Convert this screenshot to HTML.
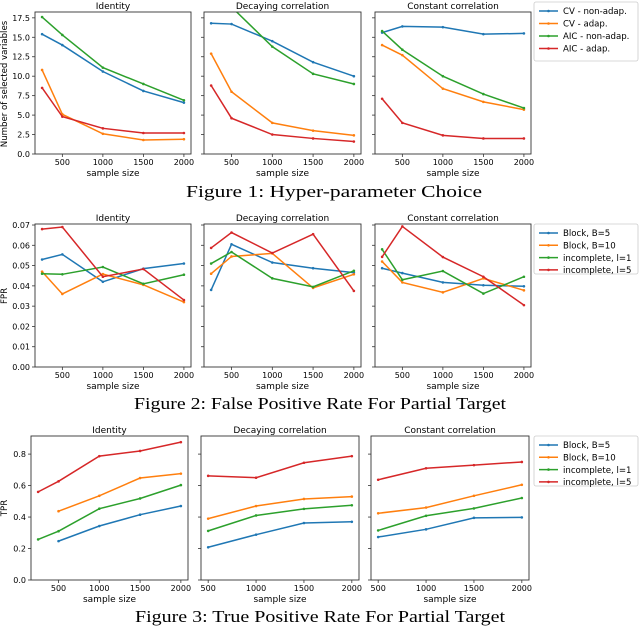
<!DOCTYPE html>
<html><head><meta charset="utf-8"><style>
body{margin:0;background:#fff;}
svg text{font-family:"DejaVu Sans","Liberation Sans",sans-serif;fill:#000;}
.cap{font-family:"Liberation Serif",serif;}
</style></head><body>
<svg id="c" width="640" height="628" viewBox="0 0 640 628" xmlns="http://www.w3.org/2000/svg"></svg>
<script>
// ---- Figure 1 data ----
const xs5 = [250, 500, 1000, 1500, 2000];
const xs4 = [500, 1000, 1500, 2000];
const panelTitles = ["Identity", "Decaying correlation", "Constant correlation"];
const f1Names = ["CV - non-adap.", "CV - adap.", "AIC - non-adap.", "AIC - adap."];
const f1Ticks = [0, 2.5, 5, 7.5, 10, 12.5, 15, 17.5];
const f1IdCVn = [15.4, 14.0, 10.6, 8.1, 6.6];
const f1IdCVa = [10.8, 5.1, 2.6, 1.8, 1.9];
const f1IdAICn = [17.6, 15.3, 11.1, 9.0, 6.9];
const f1IdAICa = [8.5, 4.8, 3.3, 2.7, 2.7];
const f1DeCVn = [16.8, 16.7, 14.5, 11.8, 10.0];
const f1DeCVa = [12.9, 8.0, 4.0, 3.0, 2.4];
const f1DeAICn = [21.5, 18.9, 13.8, 10.3, 9.0];
const f1DeAICa = [8.8, 4.6, 2.5, 2.0, 1.6];
const f1CoCVn = [15.6, 16.4, 16.3, 15.4, 15.5];
const f1CoCVa = [14.0, 12.7, 8.4, 6.7, 5.7];
const f1CoAICn = [15.8, 13.4, 10.0, 7.7, 5.9];
const f1CoAICa = [7.1, 4.0, 2.4, 2.0, 2.0];
// ---- Figure 2 data ----
const f23Names = ["Block, B=5", "Block, B=10", "incomplete, l=1", "incomplete, l=5"];
const f2Ticks = [0, 0.01, 0.02, 0.03, 0.04, 0.05, 0.06, 0.07];
const f2IdB5 = [0.053, 0.0555, 0.042, 0.0485, 0.051];
const f2IdB10 = [0.047, 0.036, 0.0458, 0.0405, 0.032];
const f2IdL1 = [0.046, 0.0457, 0.0493, 0.041, 0.0455];
const f2IdL5 = [0.068, 0.069, 0.0445, 0.0483, 0.033];
const f2DeB5 = [0.038, 0.0605, 0.0515, 0.0487, 0.0465];
const f2DeB10 = [0.046, 0.0545, 0.056, 0.039, 0.0457];
const f2DeL1 = [0.051, 0.0567, 0.0437, 0.0395, 0.0474];
const f2DeL5 = [0.0587, 0.0663, 0.0562, 0.0655, 0.0375];
const f2CoB5 = [0.0487, 0.0463, 0.0417, 0.0403, 0.0398];
const f2CoB10 = [0.052, 0.0417, 0.0368, 0.0437, 0.0378];
const f2CoL1 = [0.058, 0.043, 0.0473, 0.0362, 0.0445];
const f2CoL5 = [0.0543, 0.0693, 0.0542, 0.0445, 0.0305];
// ---- Figure 3 data ----
const f3Ticks = [0, 0.2, 0.4, 0.6, 0.8];
const f3IdB5 = [null, 0.247, 0.343, 0.415, 0.47];
const f3IdB10 = [null, 0.437, 0.535, 0.648, 0.676];
const f3IdL1 = [0.258, 0.31, 0.453, 0.518, 0.603];
const f3IdL5 = [0.56, 0.627, 0.787, 0.82, 0.876];
const f3DeB5 = [0.208, 0.288, 0.362, 0.37];
const f3DeB10 = [0.39, 0.47, 0.515, 0.53];
const f3DeL1 = [0.312, 0.41, 0.452, 0.475];
const f3DeL5 = [0.662, 0.65, 0.745, 0.787];
const f3CoB5 = [0.273, 0.322, 0.395, 0.398];
const f3CoB10 = [0.424, 0.46, 0.535, 0.605];
const f3CoL1 = [0.315, 0.408, 0.455, 0.521];
const f3CoL5 = [0.637, 0.71, 0.73, 0.75];
const xTickVals = [500, 1000, 1500, 2000];
const colors = ["#1f77b4", "#ff7f0e", "#2ca02c", "#d62728"];

const NS = "http://www.w3.org/2000/svg";
const svg = document.getElementById("c");
function mk(tag, attrs, parent){const e=document.createElementNS(NS,tag);for(const k in attrs)e.setAttribute(k,attrs[k]);(parent||svg).appendChild(e);return e;}
let clipId = 0;

function panel(fig, idx, box, xs, xlim, ylim, yTicks, yDec, showYLab, series, title){
  const [L,T,R,B] = box;
  const g = mk("g", {});
  
  
  const sx = v => L + (v - xlim[0]) / (xlim[1]-xlim[0]) * (R-L);
  const sy = v => B - (v - ylim[0]) / (ylim[1]-ylim[0]) * (B-T);
  const cid = "clip" + (clipId++);
  const cp = mk("clipPath", {id: cid}, g);
  mk("rect", {x:L, y:T, width:R-L, height:B-T}, cp);
  series.forEach((vals, si) => {
    const pts = [];
    vals.forEach((v, i) => { if (v !== null) pts.push([sx(xs[i]), sy(v)]); });
    const pl = mk("polyline", {points: pts.map(p=>p.join(",")).join(" "), fill:"none", stroke:colors[si], "stroke-width":1.5, "clip-path":"url(#"+cid+")"}, g);
    
    
    pts.forEach(p => {
      const m = mk("circle", {cx:p[0], cy:p[1], r:1.3, fill:colors[si], "clip-path":"url(#"+cid+")"}, g);
      
      
    });
  });
  const fr = mk("rect", {x:L, y:T, width:R-L, height:B-T, fill:"none", stroke:"#333", "stroke-width":0.9}, g);
  
  
  yTicks.forEach(t => {
    const y = sy(t);
    mk("line", {x1:L-3, x2:L, y1:y, y2:y, stroke:"#333", "stroke-width":0.8}, g);
    if (showYLab) {
      const tx = mk("text", {x:L-5, y:y+3, "font-size":8, "text-anchor":"end"}, g);
      tx.textContent = t.toFixed(yDec);
      
      
    }
  });
  xTickVals.forEach(t => {
    const x = sx(t);
    mk("line", {x1:x, x2:x, y1:B, y2:B+3, stroke:"#333", "stroke-width":0.8}, g);
    const tx = mk("text", {x:x, y:B+11, "font-size":8, "text-anchor":"middle"}, g);
    tx.textContent = t;
    
    
  });
  const ttl = mk("text", {x:(L+R)/2, y:T-3, "font-size":9, "text-anchor":"middle"}, g);
  ttl.textContent = title;
  
  
  const xl = mk("text", {x:(L+R)/2, y:B+22, "font-size":9, "text-anchor":"middle"}, g);
  xl.textContent = "sample size";
  
  
}

function legend(fig, x, y, w, h, names, step){
  const g = mk("g", {});
  
  
  mk("rect", {x:x, y:y, width:w, height:h, fill:"#fff", stroke:"#ccc", "stroke-width":0.8, rx:2}, g);
  names.forEach((n, i) => {
    const yy = y + 9 + i*step;
    const ln = mk("line", {x1:x+5, x2:x+24, y1:yy, y2:yy, stroke:colors[i], "stroke-width":1.5}, g);
    
    
    mk("circle", {cx:x+14.5, cy:yy, r:1.3, fill:colors[i]}, g);
    const t = mk("text", {x:x+29, y:yy+3.2, "font-size":8.6}, g);
    t.textContent = n;
    
    
  });
}

function ylabel(fig, x, y, text){
  const t = mk("text", {x:x, y:y, "font-size":8.6, "text-anchor":"middle", transform:"rotate(-90 "+x+" "+y+")"});
  t.textContent = text;
  
  
}
function caption(fig, cx, y, w, text){
  const t = mk("text", {x:cx, y:y, "font-size":17, "text-anchor":"middle", "class":"cap", textLength:w, lengthAdjust:"spacingAndGlyphs"});
  t.textContent = text;
  
  
}

const xl5 = [162.5, 2087.5], xl4 = [425, 2075];
// Figure 1
const b1 = [[35,12,191,154],[204,12,361,154],[375,12,531,154]];
const f1Series = [[f1IdCVn,f1IdCVa,f1IdAICn,f1IdAICa],[f1DeCVn,f1DeCVa,f1DeAICn,f1DeAICa],[f1CoCVn,f1CoCVa,f1CoAICn,f1CoAICa]];
b1.forEach((b,i)=>panel("fig1", i, b, xs5, xl5, [0,18.25], f1Ticks, 1, i===0, f1Series[i], panelTitles[i]));
legend("fig1", 534, 2, 104, 59, f1Names, 12.5);
ylabel("fig1", 7, 84, "Number of selected variables");
caption("fig1", 334, 197, 296, "Figure 1: Hyper-parameter Choice");
// Figure 2
const b2 = [[35,224,191,367],[204,224,361,367],[375,224,531,367]];
const f2Series = [[f2IdB5,f2IdB10,f2IdL1,f2IdL5],[f2DeB5,f2DeB10,f2DeL1,f2DeL5],[f2CoB5,f2CoB10,f2CoL1,f2CoL5]];
b2.forEach((b,i)=>panel("fig2", i, b, xs5, xl5, [0,0.0705], f2Ticks, 2, i===0, f2Series[i], panelTitles[i]));
legend("fig2", 534, 224, 104, 50, f23Names, 12.3);
ylabel("fig2", 7, 296, "FPR");
caption("fig2", 320, 409, 372, "Figure 2: False Positive Rate For Partial Target");
// Figure 3
const b3 = [[31,436,188,580],[201,436,359,580],[371,436,529,580]];
const f3Series = [[f3IdB5,f3IdB10,f3IdL1,f3IdL5],[f3DeB5,f3DeB10,f3DeL1,f3DeL5],[f3CoB5,f3CoB10,f3CoL1,f3CoL5]];
panel("fig3", 0, b3[0], xs5, xl5, [0,0.915], f3Ticks, 1, true, f3Series[0], panelTitles[0]);
panel("fig3", 1, b3[1], xs4, xl4, [0,0.915], f3Ticks, 1, false, f3Series[1], panelTitles[1]);
panel("fig3", 2, b3[2], xs4, xl4, [0,0.915], f3Ticks, 1, false, f3Series[2], panelTitles[2]);
legend("fig3", 534, 436, 104, 50, f23Names, 12.3);
ylabel("fig3", 7, 508, "TPR");
caption("fig3", 320, 622, 370, "Figure 3: True Positive Rate For Partial Target");
</script>
</body></html>
